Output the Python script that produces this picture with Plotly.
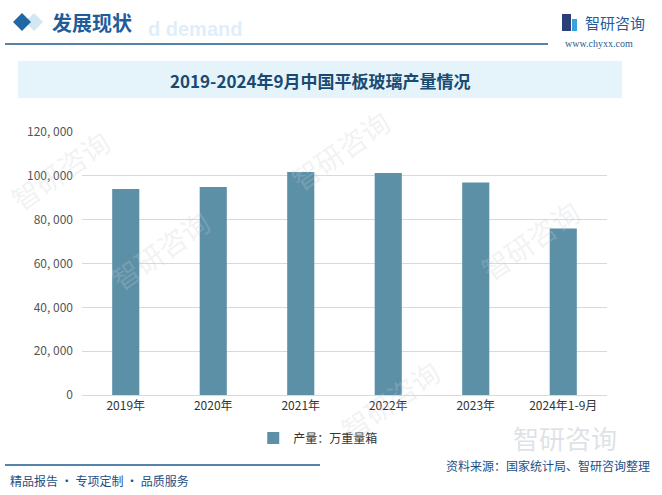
import plotly.graph_objects as go

categories = ["2019年", "2020年", "2021年", "2022年", "2023年", "2024年1-9月"]
values = [94000, 94900, 101700, 101300, 97000, 76000]
series_name = "产量：万重量箱"
y_ticks = [0, 20000, 40000, 60000, 80000, 100000, 120000]
y_tick_labels = ["0", "20, 000", "40, 000", "60, 000", "80, 000", "100, 000", "120, 000"]

W, H = 662, 495
L, R, T, B = 82, 607, 132, 395
FONT = "Noto Sans CJK SC"


def px(x):
    return (x - L) / (R - L)


def py(y):
    return (B - y) / (B - T)


fig = go.Figure()
fig.add_trace(go.Bar(
    x=categories, y=values, name=series_name,
    marker=dict(color="#5b90a7", line=dict(width=0)),
    width=0.31,
))

shapes = []
# title band
shapes.append(dict(type="rect", xref="paper", yref="paper", x0=px(18), x1=px(622), y0=py(98), y1=py(61),
                   fillcolor="#e5f3fb", line=dict(width=0), layer="below"))
# header line
shapes.append(dict(type="line", xref="paper", yref="paper", x0=px(5), x1=px(548), y0=py(44), y1=py(44),
                   line=dict(color="#1d5a8c", width=1.5)))
# footer line
shapes.append(dict(type="line", xref="paper", yref="paper", x0=px(5), x1=px(320), y0=py(465), y1=py(465),
                   line=dict(color="#1d5a8c", width=1.5)))


def diamond(cx, cy, r, color):
    path = "M {} {} L {} {} L {} {} L {} {} Z".format(
        px(cx - r), py(cy), px(cx), py(cy - r), px(cx + r), py(cy), px(cx), py(cy + r))
    return dict(type="path", xref="paper", yref="paper", path=path, fillcolor=color, line=dict(width=0))


shapes.append(diamond(34, 22, 9, "#d3e6f3"))
shapes.append(diamond(22, 22, 9, "#1f68a4"))
# logo icon
shapes.append(dict(type="rect", xref="paper", yref="paper", x0=px(562), x1=px(571), y0=py(31), y1=py(14),
                   fillcolor="#2a3f7a", line=dict(width=0)))
shapes.append(dict(type="rect", xref="paper", yref="paper", x0=px(572), x1=px(577), y0=py(31), y1=py(19),
                   fillcolor="#3aa0dc", line=dict(width=0)))

annotations = []


def text(x, y, s, size, color, xanchor="left", bold=False, angle=0, family=FONT):
    annotations.append(dict(xref="paper", yref="paper", x=px(x), y=py(y), text=("<b>%s</b>" % s) if bold else s,
                            showarrow=False, xanchor=xanchor, yanchor="middle", textangle=angle,
                            font=dict(size=size, color=color, family=family)))


# watermarks
for (wx, wy) in [(160, 250), (340, 150), (530, 240), (390, 400), (60, 170)]:
    text(wx, wy, "智研咨询", 28, "rgba(200,205,212,0.25)", xanchor="center", angle=-35)
text(565, 437, "智研咨询", 26, "rgba(190,198,208,0.5)", xanchor="center")
text(146, 29, "d demand", 20, "rgba(215,234,248,0.8)", bold=True, family="Arial")

text(50, 23, "发展现状", 20, "#1f5c99", bold=True)
text(583, 22, "智研咨询", 15, "#1f5c99")
text(599, 43, "www.chyxx.com", 10, "#2a5c8f", xanchor="center", family="Liberation Serif")
text(320, 80, "2019-2024年9月中国平板玻璃产量情况", 17, "#1a4a72", xanchor="center", bold=True)
text(8, 480, "精品报告 · 专项定制 · 品质服务", 12, "#1d4f86")
text(652, 465, "资料来源：国家统计局、智研咨询整理", 12, "#1d4f86", xanchor="right")

fig.update_layout(
    width=W, height=H,
    margin=dict(l=L, r=W - R, t=T, b=H - B, pad=0),
    paper_bgcolor="white", plot_bgcolor="white",
    font=dict(family=FONT, size=11, color="#404040"),
    shapes=shapes, annotations=annotations,
    showlegend=True,
    legend=dict(orientation="h", x=0.45, xanchor="center", y=py(438), yanchor="middle",
                font=dict(size=12, color="#333333"), itemwidth=30, bgcolor="rgba(0,0,0,0)"),
    bargap=0.69,
)
fig.update_xaxes(showgrid=False, showline=True, linecolor="#d9d9d9", linewidth=1,
                 tickfont=dict(size=12, color="#333333"), ticks="")
fig.update_yaxes(range=[0, 120000], tickvals=y_ticks, ticktext=y_tick_labels,
                 showgrid=True, gridcolor="#d9d9d9", gridwidth=1, zeroline=False,
                 tickfont=dict(size=12, color="#555555"), ticks="", ticklabelstandoff=8)

fig.write_html("out.html")
